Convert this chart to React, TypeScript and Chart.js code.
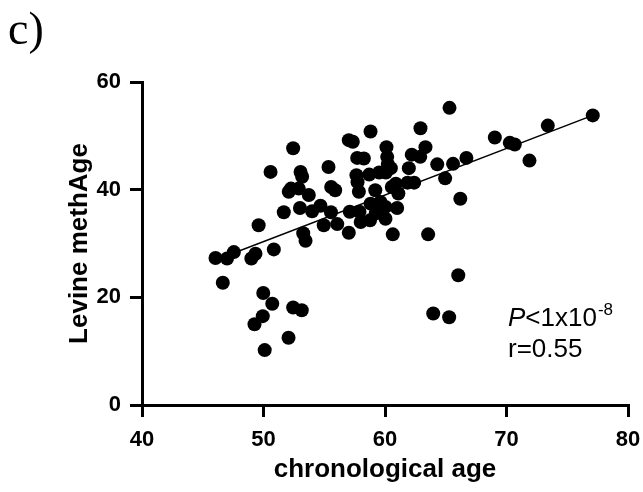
import React, { useEffect, useRef } from 'react';
import { Chart, registerables } from 'chart.js';

Chart.register(...registerables);

// chronological age (x) and Levine methAge (y)
const ageX = [
  46.05, 47.0, 47.56, 46.65, 49.0, 49.34, 49.6, 50.85, 49.98, 50.72,
  52.44, 53.15, 49.94, 49.26, 52.06, 50.1, 51.67, 53.0, 54.0, 54.69,
  55.55, 53.27, 53.46, 54.96, 56.07, 52.44, 50.58, 55.35, 53.05, 53.18,
  52.26, 52.08, 52.9, 53.73, 55.57, 55.9, 65.31, 58.81, 62.92, 57.02,
  57.35, 60.12, 63.33, 62.2, 62.9, 60.18, 57.71, 58.26, 60.23, 64.3,
  65.6, 66.7, 61.96, 60.48, 57.65, 58.7, 59.52, 60.07, 57.74, 60.89,
  61.85, 62.4, 64.95, 57.85, 59.2, 61.1, 60.56, 66.2, 58.81, 59.63,
  60.04, 61.0, 57.1, 57.9, 57.02, 58.0, 58.77, 59.24, 60.04, 60.64,
  63.55, 66.03, 63.97, 65.28, 77.1, 73.4, 69.04, 70.27, 70.68, 71.89,
];
const methAgeY = [
  27.3, 27.2, 28.4, 22.7, 27.2, 28.1, 33.4, 28.9, 20.8, 18.8,
  18.1, 17.6, 16.5, 15.0, 12.5, 10.2, 35.8, 36.6, 36.0, 37.0,
  35.8, 31.9, 30.5, 33.4, 33.6, 47.7, 43.3, 44.2, 43.3, 42.4,
  40.2, 39.6, 40.2, 39.0, 40.5, 39.9, 55.2, 50.8, 51.4, 49.2,
  48.9, 47.9, 47.9, 46.5, 46.1, 46.1, 45.9, 45.8, 44.8, 44.7,
  44.8, 45.9, 44.0, 44.0, 42.7, 42.8, 43.2, 43.2, 41.4, 41.1,
  41.3, 41.3, 42.1, 39.6, 39.9, 39.3, 40.5, 38.3, 37.4, 37.7,
  36.8, 36.6, 35.9, 35.9, 32.0, 34.0, 34.3, 35.6, 34.6, 31.7,
  31.7, 24.1, 17.0, 16.3, 53.8, 51.9, 49.7, 48.7, 48.4, 45.4,
];
// regression line end points
const fitX = [46.0, 77.1];
const fitY = [26.9, 53.8];

const xTicks = [40, 50, 60, 70, 80];
const yTicks = [0, 20, 40, 60];

const panelLabel = 'c)';
const xTitle = 'chronological age';
const yTitle = 'Levine methAge';
const pLabel = 'P';
const pRest = '<1x10';
const pExp = '-8';
const rLabel = 'r=0.55';

const SANS = "'Liberation Sans', Arial, sans-serif";
const SERIF = "'Liberation Serif', 'Times New Roman', serif";

const textPlugin = {
  id: 'panelText',
  afterDraw(chart: any) {
    const ctx = chart.ctx as CanvasRenderingContext2D;
    ctx.save();
    ctx.fillStyle = '#000';
    ctx.textBaseline = 'alphabetic';
    ctx.textAlign = 'left';
    // panel label
    ctx.font = `46px ${SERIF}`;
    ctx.fillText(panelLabel, 8, 44);
    // P<1x10^-8
    let x = 508;
    ctx.font = `italic 26px ${SANS}`;
    ctx.fillText(pLabel, x, 326);
    x += ctx.measureText(pLabel).width;
    ctx.font = `26px ${SANS}`;
    ctx.fillText(pRest, x, 326);
    x += ctx.measureText(pRest).width;
    ctx.font = `17px ${SANS}`;
    ctx.fillText(pExp, x + 1, 315);
    // r
    ctx.font = `26px ${SANS}`;
    ctx.fillText(rLabel, 508, 357);
    ctx.restore();
  },
};

export default function App() {
  const ref = useRef<HTMLCanvasElement | null>(null);
  useEffect(() => {
    if (!ref.current) return;
    const points = ageX.map((x, i) => ({ x, y: methAgeY[i] }));
    const fit = fitX.map((x, i) => ({ x, y: fitY[i] }));
    const axisCommon = {
      border: { display: true, color: '#000', width: 3 },
      grid: {
        display: true,
        drawOnChartArea: false,
        drawTicks: true,
        tickLength: 12,
        color: '#000',
        lineWidth: 3,
      },
    };
    const chart = new Chart(ref.current, {
      type: 'scatter',
      data: {
        datasets: [
          {
            type: 'line',
            data: fit,
            borderColor: '#000',
            borderWidth: 1.5,
            pointRadius: 0,
            fill: false,
          } as any,
          {
            type: 'scatter',
            data: points,
            pointRadius: 7,
            pointBackgroundColor: '#000',
            pointBorderColor: '#000',
            pointBorderWidth: 0,
          },
        ],
      },
      options: {
        animation: false,
        responsive: false,
        layout: { autoPadding: false, padding: { top: 82, right: 15, left: 0, bottom: 0 } },
        plugins: { legend: { display: false }, tooltip: { enabled: false } },
        scales: {
          x: {
            type: 'linear',
            min: xTicks[0],
            max: xTicks[xTicks.length - 1],
            afterBuildTicks: (s: any) => {
              s.ticks = xTicks.map((v) => ({ value: v }));
            },
            afterFit: (s: any) => {
              s.height = 87;
              s.paddingLeft = 0;
              s.paddingRight = 0;
            },
            ticks: {
              color: '#000',
              padding: 10,
              font: { family: SANS, size: 22, weight: 'bold' },
            },
            title: {
              display: true,
              text: xTitle,
              color: '#000',
              font: { family: SANS, size: 26, weight: 'bold' },
              padding: { top: 0, bottom: 7 },
            },
            ...axisCommon,
          } as any,
          y: {
            type: 'linear',
            min: yTicks[0],
            max: yTicks[yTicks.length - 1],
            afterBuildTicks: (s: any) => {
              s.ticks = yTicks.map((v) => ({ value: v }));
            },
            afterFit: (s: any) => {
              s.width = 142;
              s.paddingTop = 0;
              s.paddingBottom = 0;
            },
            ticks: {
              color: '#000',
              padding: 9,
              font: { family: SANS, size: 22, weight: 'bold' },
            },
            title: {
              display: true,
              text: yTitle,
              color: '#000',
              font: { family: SANS, size: 26, weight: 'bold' },
              padding: { top: 64, bottom: 0 },
            },
            ...axisCommon,
          } as any,
        },
      },
      plugins: [textPlugin],
    });
    return () => chart.destroy();
  }, []);
  return (
    <div style={{ position: 'absolute', left: 0, top: 0, width: 643, height: 492, background: '#fff' }}>
      <canvas ref={ref} width={643} height={492} />
    </div>
  );
}
